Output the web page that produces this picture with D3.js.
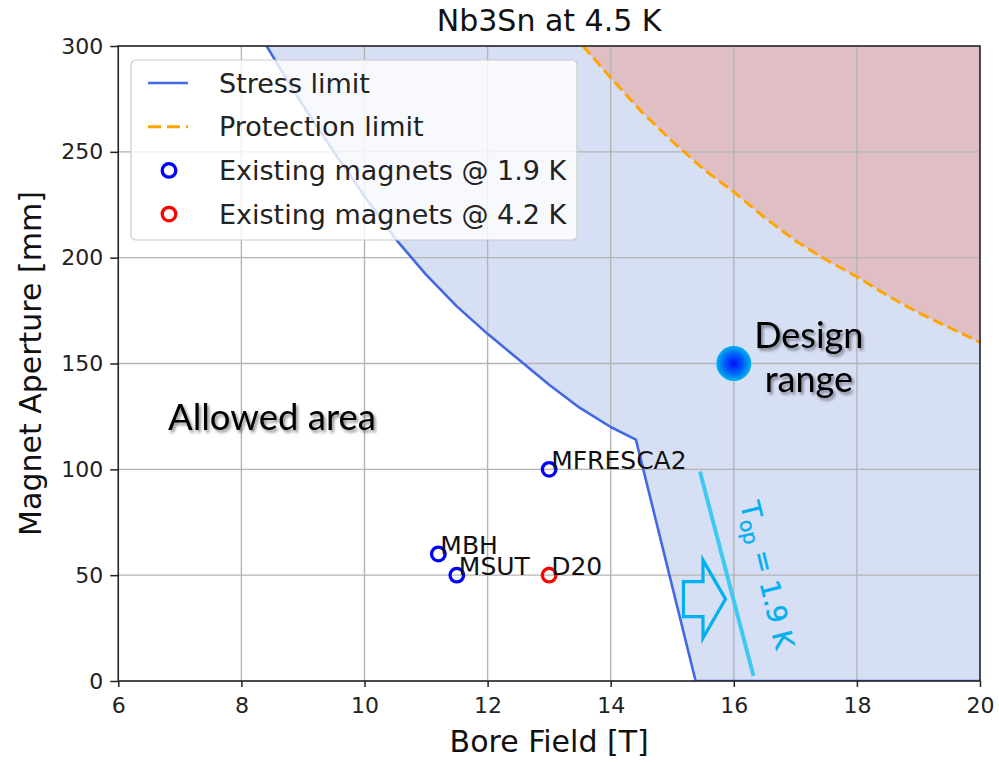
<!DOCTYPE html>
<html>
<head>
<meta charset="utf-8">
<script src="https://cdn.jsdelivr.net/npm/d3@7"></script>
<style>
  html, body { margin: 0; padding: 0; background: #ffffff; }
  svg { display: block; font-family: "DejaVu Sans", sans-serif; }
</style>
</head>
<body>
<svg id="chart" width="999" height="762"></svg>
<script>
// ---- data -------------------------------------------------------------
// Stress limit (bore field [T], aperture [mm])
const stressField    = [8.41, 8.7, 9.0, 9.5, 10.0, 10.5, 11.0, 11.5, 12.0, 12.5, 13.0, 13.5, 14.0, 14.41, 15.38, 20.0];
const stressAperture = [300,  286, 272, 250, 229,  209,  192,  177,  164,  152,  140,  129,  120,  114,   0,     0];

// Protection limit
const protField    = [13.55, 14.0, 14.5, 15.0, 15.5, 16.0, 16.5, 17.0, 17.5, 18.0, 18.5, 19.0, 19.5, 20.0];
const protAperture = [300,   285,  269,  255,  242,  231,  219,  208,  199,  191,  182,  174,  167,  160];

// Existing magnets
const magnetNames    = ["MFRESCA2", "MBH", "MSUT", "D20"];
const magnetField    = [13.0, 11.2, 11.5, 13.0];
const magnetAperture = [100, 60, 50, 50];
const magnetTemp     = ["1.9", "1.9", "1.9", "4.2"];

// Design target
const designField = 16, designAperture = 150;

// Operating-temperature shift line (1.9 K)
const topLineField    = [15.45, 16.32];
const topLineAperture = [99, 2.4];

// Axes
const xTicks = [6, 8, 10, 12, 14, 16, 18, 20];
const yTicks = [0, 50, 100, 150, 200, 250, 300];

const legendLabels = ["Stress limit", "Protection limit", "Existing magnets @ 1.9 K", "Existing magnets @ 4.2 K"];

// ---- layout -------------------------------------------------------------
const plot = { left: 118.3, right: 980, top: 46, bottom: 681 };
const svg = d3.select("#chart");

const x = d3.scaleLinear().domain([6, 20]).range([plot.left, plot.right]);
const y = d3.scaleLinear().domain([0, 300]).range([plot.bottom, plot.top]);

const colors = {
  stress: "#4169e1",
  prot: "#ffa500",
  fillBlue: "#d7dff5",
  fillRed: "#dfbec4",
  grid: "#b4b4b4",
  cyan: "#00b0f0",
  cyanLine: "#3fc9f2"
};

const defs = svg.append("defs");
defs.append("clipPath").attr("id", "plotClip")
  .append("rect")
  .attr("x", plot.left).attr("y", plot.top)
  .attr("width", plot.right - plot.left).attr("height", plot.bottom - plot.top);

const grad = defs.append("radialGradient").attr("id", "designGrad");
grad.append("stop").attr("offset", "0%").attr("stop-color", "#0010ff");
grad.append("stop").attr("offset", "55%").attr("stop-color", "#0060f8");
grad.append("stop").attr("offset", "100%").attr("stop-color", "#00b4f0");

const shadow = defs.append("filter").attr("id", "textShadow")
  .attr("x", "-10%").attr("y", "-20%").attr("width", "130%").attr("height", "150%");
shadow.append("feDropShadow").attr("dx", 2).attr("dy", 2.5)
  .attr("stdDeviation", 1.6).attr("flood-color", "#000").attr("flood-opacity", 0.45);

const soft = defs.append("filter").attr("id", "soft");
soft.append("feGaussianBlur").attr("stdDeviation", 0.7);

const line = d3.line().x(d => x(d[0])).y(d => y(d[1]));

const stressPts = stressField.map((b, i) => [b, stressAperture[i]]);
const protPts = protField.map((b, i) => [b, protAperture[i]]);

// ---- fills ----------------------------------------------------------------
const fills = svg.append("g").attr("clip-path", "url(#plotClip)");
fills.append("path")
  .attr("d", line(stressPts.concat([[20, 300], [stressField[0], 300]])) + "Z")
  .attr("fill", colors.fillBlue);
fills.append("path")
  .attr("d", line(protPts.concat([[20, 300]])) + "Z")
  .attr("fill", colors.fillRed);

// ---- grid -----------------------------------------------------------------
const grid = svg.append("g");
grid.selectAll("line.gx").data(xTicks).join("line")
  .attr("class", "gx")
  .attr("x1", d => x(d)).attr("x2", d => x(d))
  .attr("y1", plot.top).attr("y2", plot.bottom)
  .attr("stroke", colors.grid).attr("stroke-width", 1.4);
grid.selectAll("line.gy").data(yTicks).join("line")
  .attr("class", "gy")
  .attr("y1", d => y(d)).attr("y2", d => y(d))
  .attr("x1", plot.left).attr("x2", plot.right)
  .attr("stroke", colors.grid).attr("stroke-width", 1.4);

// ---- limit lines ------------------------------------------------------------
const lines = svg.append("g").attr("clip-path", "url(#plotClip)");
lines.append("path").attr("d", line(protPts))
  .attr("fill", "none").attr("stroke", colors.prot)
  .attr("stroke-width", 3).attr("stroke-dasharray", "11,5");
lines.append("path").attr("d", line(stressPts))
  .attr("fill", "none").attr("stroke", colors.stress)
  .attr("stroke-width", 2.6).attr("stroke-linejoin", "round");

// ---- magnets ----------------------------------------------------------------
const mags = svg.append("g");
magnetNames.forEach((name, i) => {
  const px = x(magnetField[i]), py = y(magnetAperture[i]);
  mags.append("circle").attr("cx", px).attr("cy", py).attr("r", 6.8)
    .attr("fill", "none")
    .attr("stroke", magnetTemp[i] === "1.9" ? "#0000ff" : "#ff0000")
    .attr("stroke-width", 3.3);
  mags.append("text").attr("x", px + 2).attr("y", py)
    .attr("font-size", 25).attr("fill", "#111").text(name);
});

// ---- axes -------------------------------------------------------------------
const xAxis = svg.append("g").attr("transform", `translate(0,${plot.bottom})`)
  .call(d3.axisBottom(x).tickValues(xTicks).tickSize(6).tickPadding(10).tickSizeOuter(0));
const yAxis = svg.append("g").attr("transform", `translate(${plot.left},0)`)
  .call(d3.axisLeft(y).tickValues(yTicks).tickSize(8).tickPadding(7).tickSizeOuter(0));
[xAxis, yAxis].forEach(a => {
  a.select(".domain").remove();
  a.selectAll(".tick line").attr("stroke", "#222").attr("stroke-width", 1.5);
  a.selectAll(".tick text").attr("font-family", "DejaVu Sans")
    .attr("font-size", 22).attr("fill", "#222");
});

// spines
svg.append("rect")
  .attr("x", plot.left).attr("y", plot.top)
  .attr("width", plot.right - plot.left).attr("height", plot.bottom - plot.top)
  .attr("fill", "none").attr("stroke", "#222").attr("stroke-width", 1.5);

// ---- titles -----------------------------------------------------------------
svg.append("text").attr("x", (plot.left + plot.right) / 2).attr("y", 31)
  .attr("text-anchor", "middle").attr("font-size", 30).attr("fill", "#111")
  .text("Nb3Sn at 4.5 K");
svg.append("text").attr("x", (plot.left + plot.right) / 2).attr("y", 752)
  .attr("text-anchor", "middle").attr("font-size", 30).attr("fill", "#111")
  .text("Bore Field [T]");
svg.append("text")
  .attr("transform", `translate(41,${(plot.top + plot.bottom) / 2}) rotate(-90)`)
  .attr("text-anchor", "middle").attr("font-size", 30).attr("fill", "#111")
  .text("Magnet Aperture [mm]");

// ---- legend -----------------------------------------------------------------
const leg = svg.append("g").attr("transform", "translate(131,60)");
leg.append("rect").attr("width", 446).attr("height", 180).attr("rx", 5)
  .attr("fill", "#ffffff").attr("fill-opacity", 0.8)
  .attr("stroke", "#cccccc").attr("stroke-width", 1.2);
const rowY = i => 23 + i * 43.7;
leg.append("line").attr("x1", 17).attr("x2", 57).attr("y1", rowY(0)).attr("y2", rowY(0))
  .attr("stroke", colors.stress).attr("stroke-width", 2.6);
leg.append("line").attr("x1", 17).attr("x2", 57).attr("y1", rowY(1)).attr("y2", rowY(1))
  .attr("stroke", colors.prot).attr("stroke-width", 3).attr("stroke-dasharray", "13,6");
leg.append("circle").attr("cx", 38).attr("cy", rowY(2)).attr("r", 6.8)
  .attr("fill", "none").attr("stroke", "#0000ff").attr("stroke-width", 3.3);
leg.append("circle").attr("cx", 38).attr("cy", rowY(3)).attr("r", 6.8)
  .attr("fill", "none").attr("stroke", "#ff0000").attr("stroke-width", 3.3);
legendLabels.forEach((t, i) => {
  leg.append("text").attr("x", 88).attr("y", rowY(i) + 9.5)
    .attr("font-size", 27).attr("fill", "#222").text(t);
});

// ---- annotations --------------------------------------------------------------
const ann = svg.append("g");

ann.append("text").attr("x", 168).attr("y", 430)
  .attr("font-family", "Lato, 'Open Sans', sans-serif").attr("font-size", 36.5)
  .attr("fill", "#000").attr("filter", "url(#textShadow)")
  .text("Allowed area");

// design target marker and label
const dx = x(designField), dy = y(designAperture);
ann.append("circle").attr("cx", dx).attr("cy", dy).attr("r", 17.5)
  .attr("fill", "url(#designGrad)").attr("filter", "url(#soft)");
const dl = ann.append("text").attr("text-anchor", "middle")
  .attr("font-family", "Lato, 'Open Sans', sans-serif").attr("font-size", 36)
  .attr("fill", "#000").attr("filter", "url(#textShadow)");
dl.append("tspan").attr("x", dx + 75).attr("y", dy - 16).text("Design");
dl.append("tspan").attr("x", dx + 75).attr("y", dy + 28).text("range");

// 1.9 K operating line
ann.append("path")
  .attr("d", line(topLineField.map((b, i) => [b, topLineAperture[i]])))
  .attr("stroke", colors.cyanLine).attr("stroke-width", 4).attr("fill", "none");

const angle = Math.atan2(
  y(topLineAperture[1]) - y(topLineAperture[0]),
  x(topLineField[1]) - x(topLineField[0])) * 180 / Math.PI;

const tl = ann.append("text")
  .attr("transform", `translate(${x(16.1)},${y(83.5)}) rotate(${angle + 0.8})`)
  .attr("font-size", 27).attr("fill", colors.cyan).attr("stroke", colors.cyan)
  .attr("stroke-width", 0.4);
tl.append("tspan").text("T");
tl.append("tspan").attr("font-size", 20).attr("dy", 5).text("op");
tl.append("tspan").attr("dy", -5).text(" = 1.9 K");

// right-pointing block arrow
const tip = [x(15.865), y(38.7)];
const arrowShape = [[-42, -17.5], [-22.5, -17.5], [-22.5, -39], [0, 0], [-22.5, 39], [-22.5, 17.5], [-42, 17.5]];
ann.append("polygon")
  .attr("points", arrowShape.map(p => [tip[0] + p[0], tip[1] + p[1]].join(",")).join(" "))
  .attr("fill", "none").attr("stroke", colors.cyan).attr("stroke-width", 3.2)
  .attr("stroke-linejoin", "miter");
</script>
</body>
</html>
